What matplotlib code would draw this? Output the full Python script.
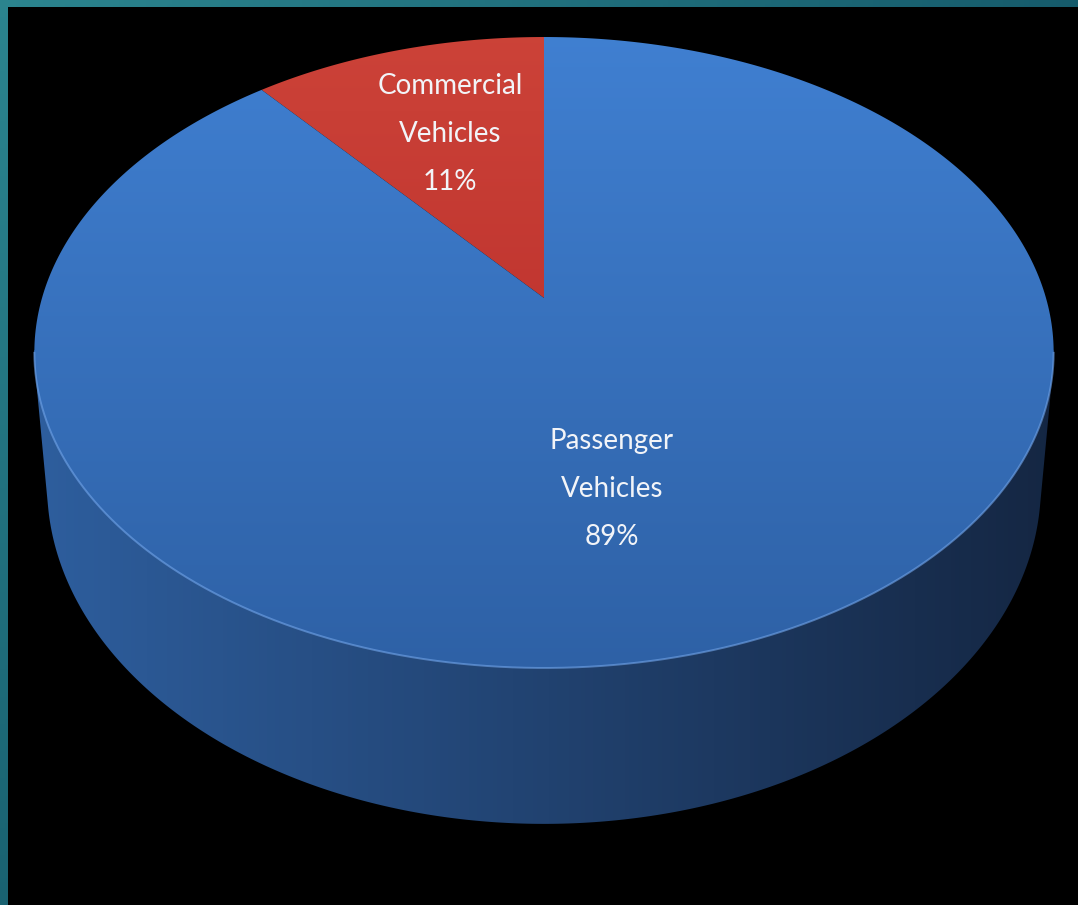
"""3D-style pie chart: vehicle sales share, passenger vs commercial."""

import numpy as np
import matplotlib
matplotlib.use("Agg")
import matplotlib.pyplot as plt
from matplotlib.patches import Polygon

# Data
categories = ["Passenger\nVehicles", "Commercial\nVehicles"]
shares = [89, 11]
label_xy = [(612, 489), (450, 134)]  # pixel positions of the labels

# Colours
top_colours = {
    "Passenger\nVehicles": ((0.25, 0.50, 0.82), (0.18, 0.38, 0.65)),
    "Commercial\nVehicles": ((0.80, 0.26, 0.22), (0.70, 0.15, 0.15)),
}
side_left = (0.18, 0.37, 0.62)
side_right = (0.08, 0.15, 0.26)

W, H = 1078, 905
border = 8

# Perspective mapping of the pie plane onto the picture (pixels)
cx = 544.0
A = 502.0
a, b, c = 254.6, 298.0, -0.1727
D0 = 129.0      # depth of the cylinder side
s_bot = 0.975   # bottom face is a little narrower (further away)


def project(u, v, depth=0.0, scale=1.0):
    den = 1 + c * v
    x = cx + scale * A * u / den
    y = (a * v + b) / den + depth * D0 / den
    return x, y


def circle_pts(phi0, phi1, n=400, r=1.0, depth=0.0, scale=1.0):
    phi = np.radians(np.linspace(phi0, phi1, n))
    u, v = r * np.cos(phi), -r * np.sin(phi)
    return np.column_stack(project(u, v, depth, scale))


def hull(points):
    pts = sorted(map(tuple, points))
    def cross(o, p, q):
        return (p[0] - o[0]) * (q[1] - o[1]) - (p[1] - o[1]) * (q[0] - o[0])
    lower, upper = [], []
    for p in pts:
        while len(lower) >= 2 and cross(lower[-2], lower[-1], p) <= 0:
            lower.pop()
        lower.append(p)
    for p in reversed(pts):
        while len(upper) >= 2 and cross(upper[-2], upper[-1], p) <= 0:
            upper.pop()
        upper.append(p)
    return np.array(lower[:-1] + upper[:-1])


fig = plt.figure(figsize=(W / 100, H / 100), dpi=100)

# Teal frame in the background
bg = fig.add_axes([0, 0, 1, 1])
bg.axis("off")
gx, gy = np.meshgrid(np.linspace(0, 1, 200), np.linspace(0, 1, 200))
t = np.clip(0.6 * gx + 0.5 * gy, 0, 1)[..., None]
teal = (1 - t) * np.array([0.17, 0.52, 0.56]) + t * np.array([0.03, 0.25, 0.33])
bg.imshow(teal, extent=[0, 1, 1, 0], aspect="auto")
bg.set_xlim(0, 1)
bg.set_ylim(1, 0)

ax = fig.add_axes([border / W, 0, 1 - border / W, 1 - 7 / H])
ax.set_facecolor("black")
ax.set_xlim(border, W)
ax.set_ylim(H, 7)
ax.set_xticks([])
ax.set_yticks([])
for sp in ax.spines.values():
    sp.set_visible(False)

# Side of the cylinder
top_all = circle_pts(0, 360, 720)
bot_all = circle_pts(0, 360, 720, depth=1.0, scale=s_bot)
side = Polygon(hull(np.vstack([top_all, bot_all])), closed=True,
               facecolor="none", edgecolor="none")
ax.add_patch(side)
hx = np.linspace(0, 1, 256)
grad = np.array([(1 - k) * np.array(side_left) + k * np.array(side_right) for k in hx])
im = ax.imshow(grad[None, :, :], extent=[30, 1060, 830, 350], aspect="auto", zorder=1)
im.set_clip_path(side)

# Top faces of the slices, counter-clockwise from 12 o'clock
order = [1, 0]  # commercial first
start = 90.0
for i in order:
    span = 360.0 * shares[i] / sum(shares)
    arc = circle_pts(start, start + span)
    apex = np.array(project(0.0, 0.0))
    pts = np.vstack([apex, arc])
    poly = Polygon(pts, closed=True, facecolor="none", edgecolor="none", zorder=2)
    ax.add_patch(poly)
    c0, c1 = top_colours[categories[i]]
    vy = np.linspace(0, 1, 256)
    g = np.array([(1 - k) * np.array(c0) + k * np.array(c1) for k in vy])
    im = ax.imshow(g[:, None, :], extent=[30, 1060, 672, 35], aspect="auto", zorder=2)
    im.set_clip_path(poly)
    start += span

# Light rim along the front edge of the top face
rim = circle_pts(190, 350, 400)
ax.plot(rim[:, 0], rim[:, 1], color=(0.45, 0.65, 0.92), lw=1.4, alpha=0.6, zorder=3)

for i, name in enumerate(categories):
    x, y = label_xy[i]
    ax.text(x, y, "%s\n%d%%" % (name, shares[i]), ha="center", va="center",
            color="#f2f4f8", fontsize=20, linespacing=2.05,
            family=["Lato", "DejaVu Sans"], zorder=4)

fig.savefig("out.png", dpi=100)
